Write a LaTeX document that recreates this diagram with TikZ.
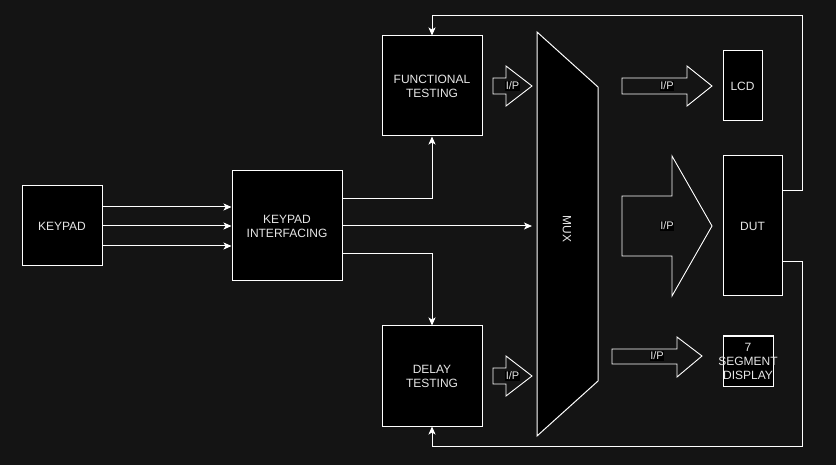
\documentclass[tikz,border=0pt]{standalone}
\usepackage{fontspec}
\setmainfont{Liberation Sans}
\usetikzlibrary{arrows.meta}
\definecolor{bg}{HTML}{141414}
\definecolor{txt}{HTML}{E6E6E6}
\definecolor{ln}{HTML}{FFFFFF}
\tikzset{
  blk/.style={draw=ln, fill=black, text=txt, line width=1pt, inner sep=0pt, align=center,
    font=\fontsize{12}{14}\selectfont},
  conn/.style={draw=ln, line width=1pt, -{Stealth[length=8pt,width=7pt,inset=2pt]}},
  fat/.style={draw=ln, line width=0.9pt, line join=miter},
  iplbl/.style={fill=black, text=txt, inner sep=0.5pt, font=\fontsize{11}{13}\selectfont}
}
\begin{document}
\begin{tikzpicture}[x=1pt,y=-1pt]
\fill[bg] (0,0) rectangle (836,465);
\useasboundingbox (0,0) rectangle (836,465);

% blocks
\node[blk, minimum width=80pt, minimum height=80pt] (keypad) at (62,226) {KEYPAD};
\node[blk, minimum width=110pt, minimum height=110pt] (ki) at (287,226) {KEYPAD\\INTERFACING};
\node[blk, minimum width=100pt, minimum height=100pt] (ft) at (432,86) {FUNCTIONAL\\TESTING};
\node[blk, minimum width=100pt, minimum height=100pt] (dt) at (432,376) {DELAY\\TESTING};
\node[blk, minimum width=39pt, minimum height=70pt] (lcd) at (742.5,86) {LCD};
\node[blk, minimum width=59pt, minimum height=140pt] (dut) at (752.5,226) {DUT};
\node[blk, minimum width=50pt, minimum height=50pt] (seg) at (748,361) {};
\node[text=txt, align=center, inner sep=0pt, font=\fontsize{12}{14}\selectfont] (segtxt) at (seg.center) {7\\SEGMENT\\DISPLAY};

% MUX
\draw[ln, fill=black, line width=1pt] (537,32) -- (598,87) -- (598,381) -- (537,436) -- cycle;
\node[text=txt, rotate=-90, font=\fontsize{12}{14}\selectfont] (mux) at (567,229) {MUX};
\coordinate (muxin) at (532,226);

% keypad -> interfacing
\draw[conn] (keypad.east |- 0,207) -- (ki.west |- 0,207);
\draw[conn] (keypad.east |- 0,226) -- (ki.west |- 0,226);
\draw[conn] (keypad.east |- 0,246) -- (ki.west |- 0,246);

% interfacing outputs
\draw[conn] (ki.east |- 0,199) -- (432,199) -- (ft.south);
\draw[conn] (ki.east) -- (muxin);
\draw[conn] (ki.east |- 0,254) -- (432,254) -- (dt.north);

% feedback
\draw[conn] (dut.east |- 0,191) -- (802,191) -- (802,16) -- (432,16) -- (ft.north);
\draw[conn] (dut.east |- 0,262) -- (802,262) -- (802,446) -- (432,446) -- (dt.south);

% fat arrows
\draw[fat] (493,78) -- (506,78) -- (506,66) -- (532,86) -- (506,106) -- (506,94) -- (493,94) -- cycle;
\node[iplbl] (ip1) at (512.5,86) {I/P};
\draw[fat] (493,368) -- (506,368) -- (506,356) -- (532,376) -- (506,396) -- (506,384) -- (493,384) -- cycle;
\node[iplbl] (ip2) at (512.5,376) {I/P};
\draw[fat] (622,78) -- (687,78) -- (687,66) -- (712,86) -- (687,106) -- (687,94) -- (622,94) -- cycle;
\node[iplbl] (ip3) at (667,86) {I/P};
\draw[fat] (622,196) -- (672,196) -- (672,156) -- (712,226) -- (672,296) -- (672,256) -- (622,256) -- cycle;
\node[iplbl] (ip4) at (667,226) {I/P};
\draw[fat] (612,349) -- (677,349) -- (677,337) -- (702,356) -- (677,377) -- (677,364) -- (612,364) -- cycle;
\node[iplbl] (ip5) at (657,356) {I/P};
\end{tikzpicture}
\end{document}
